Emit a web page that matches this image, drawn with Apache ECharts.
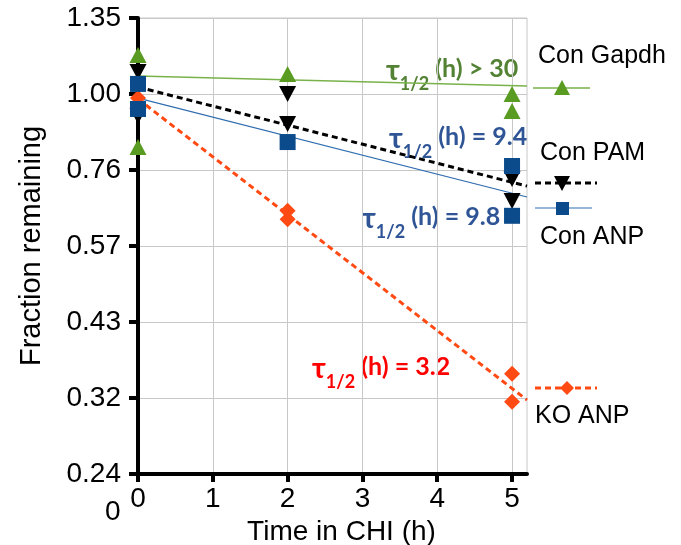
<!DOCTYPE html>
<html>
<head>
    <meta charset="UTF-8">
    <title>Fraction remaining</title>
    <script src="https://cdn.jsdelivr.net/npm/echarts@6/dist/echarts.min.js"></script>
</head>
<body style="margin:0">
    <div id="main" style="width: 681px; height: 545px;"></div>
    <script>
        // 对数轴底数 (刻度间比例约 1.325)
        var logBase = 1.325;
        var yTickLabels = ['0.24', '0.32', '0.43', '0.57', '0.76', '1.00', '1.35'];
        var yTickValues = [-5, -4, -3, -2, -1, 0, 1].map(function (k) { return Math.pow(logBase, k); });
        var xTicks = [0, 1, 2, 3, 4, 5];

        // 测量点
        var gapdhX = [0, 0, 2, 5, 5];
        var gapdhY = [1.155, 0.822, 1.077, 1.00, 0.939];
        var pamX = [0, 0, 2, 2, 5, 5];
        var pamY = [1.085, 0.922, 1.00, 0.895, 0.730, 0.673];
        var koX = [0, 0, 2, 2, 5, 5];
        var koY = [0.985, 0.945, 0.649, 0.629, 0.355, 0.320];
        var anpX = [0, 0, 2, 5, 5];
        var anpY = [1.038, 0.946, 0.837, 0.766, 0.637];

        // 拟合线 (两端点)
        var fitX = [0, 5.2];
        var gapdhFit = [1.069, 1.030];
        var pamFit = [1.026, 0.711];
        var anpFit = [0.985, 0.683];
        var koFit = [0.982, 0.322];

        function pairs(xs, ys) {
            return xs.map(function (x, i) { return [x, ys[i]]; });
        }

        var green = '#5a9b22', greenLine = '#79b24a';
        var blue = '#0b4a8b', blueLine = '#2f6db0';
        var red = '#ff4a14';
        var font = 'Liberation Sans';

        function tau(rest, color) {
            return {
                type: 'text',
                style: {
                    text: '{t|τ}{s|1/2}{n|' + rest + '}',
                    font: 'bold 25px Lato',
                    rich: {
                        t: { font: 'bold 29px Lato', fontSize: 29, fontWeight: 'bold', fill: color, lineHeight: 37, verticalAlign: 'top', fontFamily: 'Lato' },
                        s: { font: 'bold 18px Lato', fontSize: 18, fontWeight: 'bold', fill: color, lineHeight: 37, verticalAlign: 'bottom', fontFamily: 'Lato' },
                        n: { font: 'bold 25px Lato', fontSize: 25, fontWeight: 'bold', fill: color, lineHeight: 37, verticalAlign: 'top', fontFamily: 'Lato' }
                    }
                }
            };
        }

        var myChart = echarts.init(document.getElementById('main'));

        var option = {
            backgroundColor: '#fff',
            animation: false,
            grid: {
                left: 138, top: 18, right: 154, bottom: 71,
                containLabel: false, outerBoundsMode: 'none',
                show: true, borderColor: '#c8c8c8', borderWidth: 1
            },
            xAxis: {
                type: 'value',
                min: 0, max: 5.2,
                name: 'Time in CHI (h)',
                nameLocation: 'middle',
                nameGap: 33,
                nameTextStyle: { fontSize: 28, color: '#000', fontFamily: font, padding: [0, 0, 0, 18] },
                axisLine: { lineStyle: { color: '#000', width: 4 } },
                axisTick: { length: 8, lineStyle: { color: '#000', width: 4 }, customValues: xTicks },
                axisLabel: { fontSize: 28, color: '#000', fontFamily: font, margin: 11, customValues: xTicks },
                splitLine: { show: true, lineStyle: { color: '#c8c8c8', width: 1 } }
            },
            yAxis: {
                type: 'log',
                logBase: logBase,
                min: yTickValues[0],
                max: yTickValues[yTickValues.length - 1],
                name: 'Fraction remaining',
                nameLocation: 'middle',
                nameGap: 92,
                nameTextStyle: { fontSize: 29, color: '#000', fontFamily: font },
                axisLine: { show: true, lineStyle: { color: '#000', width: 4 } },
                axisTick: { show: true, length: 9, lineStyle: { color: '#000', width: 4 }, customValues: yTickValues },
                axisLabel: {
                    fontSize: 28, color: '#000', fontFamily: font, margin: 17,
                    customValues: yTickValues,
                    formatter: function (v) {
                        var k = Math.round(Math.log(v) / Math.log(logBase));
                        return yTickLabels[k + 5];
                    }
                },
                splitLine: { show: true, lineStyle: { color: '#c8c8c8', width: 1 } }
            },
            graphic: [
                // 图例
                { type: 'text', left: 538, top: 44, style: { text: 'Con Gapdh', fontSize: 25, fill: '#000', fontFamily: font } },
                { type: 'line', shape: { x1: 533, y1: 88, x2: 590, y2: 88 }, style: { stroke: greenLine, lineWidth: 1.5 } },
                { type: 'polygon', shape: { points: [[562, 80], [554, 95], [570, 95]] }, style: { fill: green } },

                { type: 'text', left: 540, top: 141, style: { text: 'Con PAM', fontSize: 25, fill: '#000', fontFamily: font } },
                { type: 'line', shape: { x1: 535, y1: 183, x2: 597, y2: 183 }, style: { stroke: '#000', lineWidth: 3, lineDash: [6, 4] } },
                { type: 'polygon', shape: { points: [[554, 176], [570, 176], [562, 191]] }, style: { fill: '#000' } },

                { type: 'line', shape: { x1: 535, y1: 208, x2: 592, y2: 208 }, style: { stroke: blueLine, lineWidth: 1.2 } },
                { type: 'rect', shape: { x: 556, y: 202, width: 13, height: 13 }, style: { fill: blue } },
                { type: 'text', left: 540, top: 225, style: { text: 'Con ANP', fontSize: 25, fill: '#000', fontFamily: font } },

                { type: 'line', shape: { x1: 535, y1: 388, x2: 597, y2: 388 }, style: { stroke: red, lineWidth: 3, lineDash: [6, 4] } },
                { type: 'polygon', shape: { points: [[567, 381], [574, 388], [567, 395], [560, 388]] }, style: { fill: red } },
                { type: 'text', left: 535, top: 404, style: { text: 'KO ANP', fontSize: 25, fill: '#000', fontFamily: font } },

                // 半衰期标注
                Object.assign(tau(' (h) > 30', '#548235'), { left: 386, top: 56 }),
                Object.assign(tau(' (h) = 9.4', '#2f5597'), { left: 389, top: 124 }),
                Object.assign(tau(' (h) = 9.8', '#2f5597'), { left: 362, top: 204 }),
                Object.assign(tau(' (h) = 3.2', '#ff0000'), { left: 312, top: 354 }),

                // 左下角多余的 0
                { type: 'text', left: 105, top: 498, style: { text: '0', fontSize: 28, fill: '#000', fontFamily: font } }
            ],
            series: [
                {
                    type: 'line', data: pairs(fitX, gapdhFit), showSymbol: false, symbol: 'none',
                    lineStyle: { color: greenLine, width: 1.5 }, z: 2
                },
                {
                    type: 'line', data: pairs(fitX, pamFit), showSymbol: false, symbol: 'none',
                    lineStyle: { color: '#000', width: 3, type: [6, 4] }, z: 2
                },
                {
                    type: 'line', data: pairs(fitX, anpFit), showSymbol: false, symbol: 'none',
                    lineStyle: { color: blueLine, width: 1.2 }, z: 2
                },
                {
                    type: 'line', data: pairs(fitX, koFit), showSymbol: false, symbol: 'none',
                    lineStyle: { color: red, width: 3, type: [6, 4] }, z: 2
                },
                {
                    type: 'scatter', data: pairs(gapdhX, gapdhY), symbol: 'triangle', symbolSize: [17, 16],
                    itemStyle: { color: green, opacity: 1 }, z: 3
                },
                {
                    type: 'scatter', data: pairs(pamX, pamY), symbol: 'triangle', symbolRotate: 180, symbolSize: [17, 16],
                    itemStyle: { color: '#000', opacity: 1 }, z: 3
                },
                {
                    type: 'scatter', data: pairs(koX, koY), symbol: 'diamond', symbolSize: [16, 16],
                    itemStyle: { color: red, opacity: 1 }, z: 3
                },
                {
                    type: 'scatter', data: pairs(anpX, anpY), symbol: 'rect', symbolSize: [16, 16],
                    itemStyle: { color: blue, opacity: 1 }, z: 3
                }
            ]
        };

        myChart.setOption(option);
    </script>
</body>
</html>
